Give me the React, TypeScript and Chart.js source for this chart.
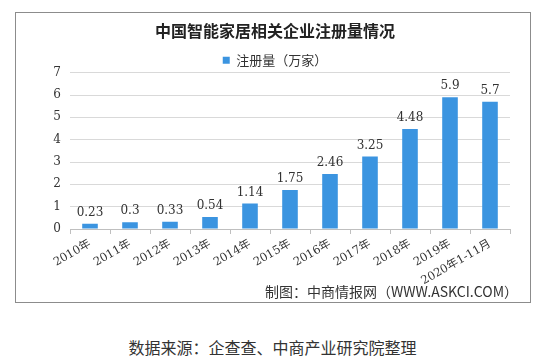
import React, { useEffect, useRef } from "react";
import { Chart, registerables } from "chart.js";

Chart.register(...registerables);

const categories = ["2010年", "2011年", "2012年", "2013年", "2014年", "2015年", "2016年", "2017年", "2018年", "2019年", "2020年1-11月"];
const registrations = [0.23, 0.3, 0.33, 0.54, 1.14, 1.75, 2.46, 3.25, 4.48, 5.9, 5.7];
const seriesName = "注册量（万家）";
const chartTitle = "中国智能家居相关企业注册量情况";
const captionText = "制图：中商情报网（WWW.ASKCI.COM）";
const sourceText = "数据来源：企查查、中商产业研究院整理";

const numFont = "'DejaVu Serif', 'Noto Sans CJK SC', serif";

const valueLabels = {
  id: "valueLabels",
  afterDatasetsDraw(chart: any) {
    const ctx = chart.ctx;
    const meta = chart.getDatasetMeta(0);
    ctx.save();
    ctx.font = `12px ${numFont}`;
    ctx.fillStyle = "#333";
    ctx.textAlign = "center";
    ctx.textBaseline = "bottom";
    meta.data.forEach((bar: any, i: number) => {
      ctx.fillText(String(registrations[i]), bar.x, bar.y - 5);
    });
    ctx.restore();
  },
};

const legendTrim = {
  id: "legendTrim",
  afterInit(chart: any) {
    const lg = chart.legend;
    if (lg && !lg._trimmed) {
      const f = lg.fit.bind(lg);
      lg.fit = function () {
        f();
        this.height = Math.max(0, this.height - 4);
      };
      lg._trimmed = true;
    }
  },
};

export default function App() {
  const ref = useRef<HTMLCanvasElement | null>(null);
  useEffect(() => {
    if (!ref.current) return;
    const chart = new Chart(ref.current, {
      type: "bar",
      data: {
        labels: categories,
        datasets: [
          {
            label: seriesName,
            data: registrations,
            backgroundColor: "#3b94e0",
            barPercentage: 0.39,
            categoryPercentage: 1,
          },
        ],
      },
      options: {
        animation: false,
        responsive: false,
        maintainAspectRatio: false,
        layout: { padding: { left: 24, right: 20, top: 0, bottom: 0 } },
        plugins: {
          title: {
            display: true,
            text: chartTitle,
            color: "#222",
            font: { family: "'Noto Sans CJK SC'", size: 16, weight: "bold" },
            padding: { top: 8, bottom: 9.5 },
          },
          legend: {
            display: true,
            labels: {
              boxWidth: 7,
              boxHeight: 7,
              padding: 4,
              color: "#333",
              font: { family: "'Noto Sans CJK SC'", size: 13 },
            },
          },
          tooltip: { enabled: false },
        },
        scales: {
          x: {
            grid: { display: true, drawOnChartArea: false, color: "#bfbfbf", tickLength: 5 },
            border: { display: true, color: "#bfbfbf" },
            ticks: {
              autoSkip: false,
              minRotation: 30,
              maxRotation: 30,
              color: "#333",
              font: { family: numFont, size: 11.5 },
            },
            afterFit: (s: any) => {
              s.height = 73;
            },
          },
          y: {
            min: 0,
            max: 7,
            ticks: { stepSize: 1, color: "#333", padding: 9, font: { family: numFont, size: 12 } },
            grid: { color: "#d9d9d9", drawTicks: false },
            border: { display: false },
            afterFit: (s: any) => {
              s.width = 30;
            },
          },
        },
      },
      plugins: [valueLabels, legendTrim],
    });
    return () => chart.destroy();
  }, []);

  return (
    <div style={{ position: "absolute", left: 0, top: 0, width: 545, height: 363, background: "#fff", overflow: "hidden" }}>
      <div
        style={{
          position: "absolute",
          left: 15,
          top: 12,
          width: 516,
          height: 291,
          border: "1px solid #8c8c8c",
          boxSizing: "border-box",
        }}
      />
      <canvas ref={ref} width={514} height={289} style={{ position: "absolute", left: 16, top: 13, width: 514, height: 289 }} />
      <div
        style={{
          position: "absolute",
          right: 545 - 518,
          top: 281,
          fontFamily: "'Noto Sans CJK SC'",
          fontSize: 14,
          lineHeight: "20px",
          color: "#333",
          whiteSpace: "nowrap",
        }}
      >
        {captionText}
      </div>
      <div
        style={{
          position: "absolute",
          left: 0,
          width: 545,
          top: 336,
          textAlign: "center",
          fontFamily: "'Noto Sans CJK SC'",
          fontSize: 16,
          lineHeight: "22px",
          color: "#333",
          whiteSpace: "nowrap",
        }}
      >
        {sourceText}
      </div>
    </div>
  );
}
